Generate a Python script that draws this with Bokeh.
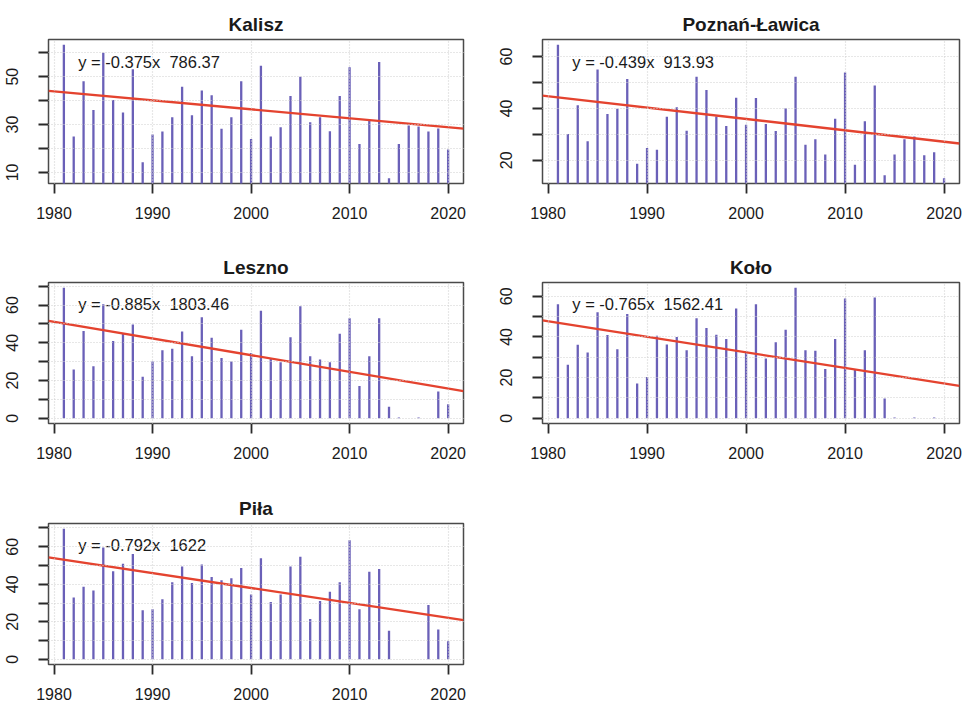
from bokeh.plotting import figure
from bokeh.layouts import column, row
from bokeh.models import Range1d, FixedTicker
from bokeh.embed import file_html
from bokeh.resources import INLINE

years = list(range(1981, 2021))

stations = ["Kalisz", "Poznań-Ławica", "Leszno", "Koło", "Piła"]

kalisz = [63.3, 25.0, 48.1, 36.1, 60.0, 40.3, 35.0, 53.1, 14.2, 25.8,
          27.1, 33.1, 45.8, 33.9, 44.2, 42.2, 28.2, 33.1, 48.1, 24.0,
          54.6, 25.0, 28.9, 41.9, 50.0, 31.0, 33.1, 27.2, 41.9, 53.9,
          21.9, 31.9, 56.1, 7.6, 21.9, 29.6, 29.2, 27.1, 28.3, 19.6]

poznan = [64.5, 30.1, 41.2, 27.3, 55.0, 37.8, 39.9, 51.3, 18.7, 24.7,
          24.1, 36.8, 40.4, 31.4, 52.2, 47.1, 36.9, 33.2, 44.1, 33.7,
          44.0, 34.0, 31.3, 40.1, 52.2, 26.0, 28.1, 22.2, 36.0, 53.8,
          18.3, 35.0, 48.8, 14.2, 22.2, 28.1, 29.2, 21.9, 23.1, 13.1]

leszno = [69.2, 25.9, 46.2, 27.6, 60.5, 40.9, 45.1, 49.7, 22.0, 30.1,
          36.0, 36.9, 46.0, 32.9, 53.5, 42.7, 32.0, 30.1, 46.9, 34.6,
          57.0, 32.0, 29.7, 43.0, 59.4, 32.9, 31.1, 29.7, 44.8, 53.0,
          17.1, 32.9, 53.0, 6.1, 0.4, 0.0, 0.4, 0.0, 14.2, 7.5]

kolo = [56.1, 26.3, 36.1, 32.4, 52.1, 41.0, 34.0, 51.3, 17.1, 20.3,
        40.6, 36.3, 40.0, 33.5, 49.2, 44.4, 41.1, 39.0, 54.0, 33.0,
        56.1, 29.4, 37.4, 43.5, 64.2, 33.5, 33.2, 24.2, 39.0, 58.9,
        24.2, 33.5, 59.4, 9.7, 0.4, 0.0, 0.4, 0.0, 0.4, 0.0]

pila = [69.6, 32.9, 38.6, 36.7, 59.6, 46.9, 50.9, 56.1, 26.2, 26.7,
        32.0, 41.1, 49.5, 40.7, 50.5, 43.9, 42.1, 43.2, 48.6, 34.6,
        53.8, 30.6, 34.6, 49.5, 54.7, 21.5, 31.1, 36.0, 41.1, 63.5,
        26.7, 46.7, 48.1, 15.2, 0.0, 0.0, 0.0, 29.0, 15.9, 9.6]

series = [kalisz, poznan, leszno, kolo, pila]

slopes = [-0.375, -0.439, -0.885, -0.765, -0.792]
intercepts = [786.37, 913.93, 1803.46, 1562.41, 1622.0]
equations = ["y = -0.375x\u00a0 786.37", "y = -0.439x\u00a0 913.93",
             "y = -0.885x\u00a0 1803.46", "y = -0.765x\u00a0 1562.41",
             "y = -0.792x\u00a0 1622"]

x_ticks = [1980, 1990, 2000, 2010, 2020]
x_tick_labels = ["1980", "1990", "2000", "2010", "2020"]

y_ticks = [[10, 20, 30, 40, 50, 60],
           [20, 30, 40, 50, 60],
           [0, 10, 20, 30, 40, 50, 60, 70],
           [0, 10, 20, 30, 40, 50, 60],
           [0, 10, 20, 30, 40, 50, 60, 70]]
y_tick_labels = [["10", "", "30", "", "50", ""],
                 ["20", "", "40", "", "60"],
                 ["0", "", "20", "", "40", "", "60", ""],
                 ["0", "", "20", "", "40", "", "60"],
                 ["0", "", "20", "", "40", "", "60", ""]]

BAR = "#6a60b8"
RED = "#e4432f"
FONT = "Liberation Sans"
TXT = "#1a1a1a"


def make_panel(i, col, r):
    vals = series[i]
    lo, hi = min(vals), max(vals)
    pad = 0.04 * (hi - lo)
    ymin, ymax = lo - pad, hi + pad
    xpad = 0.04 * (years[-1] - years[0])
    xmin, xmax = years[0] - xpad, years[-1] + xpad

    tops = [39, 40, 40]
    heights = [144, 141, 141]
    bottoms = [59, 60, 41]
    if col == 0:
        bl, fw, br = 48, 415, 18
    else:
        bl, fw, br = 61, 417, 4

    p = figure(frame_width=fw, frame_height=heights[r],
               min_border_left=bl, min_border_right=br,
               min_border_top=tops[r], min_border_bottom=bottoms[r],
               x_range=Range1d(xmin, xmax), y_range=Range1d(ymin, ymax),
               output_backend="svg", toolbar_location=None,
               title=stations[i])
    p.background_fill_color = "white"
    p.border_fill_color = "white"
    p.outline_line_color = "#4a4a4a"
    p.outline_line_width = 1.5

    p.title.align = "center"
    p.title.text_font = FONT
    p.title.text_font_size = "19px"
    p.title.text_font_style = "bold"
    p.title.text_color = TXT
    p.title.standoff = 9

    for ax in (p.xaxis[0], p.yaxis[0]):
        ax.axis_line_color = None
        ax.major_tick_in = 0
        ax.major_tick_out = 10
        ax.major_tick_line_color = "#2a2a2a"
        ax.major_tick_line_width = 1.8
        ax.minor_tick_line_color = None
        ax.major_label_text_font = FONT
        ax.major_label_text_font_size = "16px"
        ax.major_label_text_color = TXT

    p.xaxis.ticker = FixedTicker(ticks=x_ticks)
    p.xaxis.major_label_overrides = dict(zip(x_ticks, x_tick_labels))
    p.xaxis.major_label_standoff = 13

    p.yaxis.ticker = FixedTicker(ticks=y_ticks[i])
    p.yaxis.major_label_overrides = dict(zip(y_ticks[i], y_tick_labels[i]))
    p.yaxis.major_label_orientation = "vertical"
    p.yaxis.major_label_standoff = 20

    p.xgrid.ticker = FixedTicker(ticks=x_ticks)
    p.ygrid.ticker = FixedTicker(ticks=y_ticks[i])
    for g in (p.xgrid[0], p.ygrid[0]):
        g.grid_line_color = "#d0d0d0"
        g.grid_line_dash = "1 2"
        g.grid_line_width = 1.2
        g.level = "overlay"

    p.segment(x0=years, y0=[0] * len(years), x1=years, y1=vals,
              line_color=BAR, line_width=2.3)

    xl = [xmin, xmax]
    yl = [slopes[i] * x + intercepts[i] for x in xl]
    p.line(xl, yl, line_color=RED, line_width=2.3)

    p.text(x=[years[0] + 1.45], y=[ymin + 0.845 * (ymax - ymin)],
           text=[equations[i]], text_font_size="16.5px",
           text_color=TXT, text_align="left", text_baseline="middle",
           text_font={"value": FONT})
    return p


panels = [make_panel(0, 0, 0), make_panel(1, 1, 0),
          make_panel(2, 0, 1), make_panel(3, 1, 1),
          make_panel(4, 0, 2)]

layout = column(row(panels[0], panels[1]),
                row(panels[2], panels[3]),
                row(panels[4]))

open("out.html", "w").write(file_html(layout, INLINE))
